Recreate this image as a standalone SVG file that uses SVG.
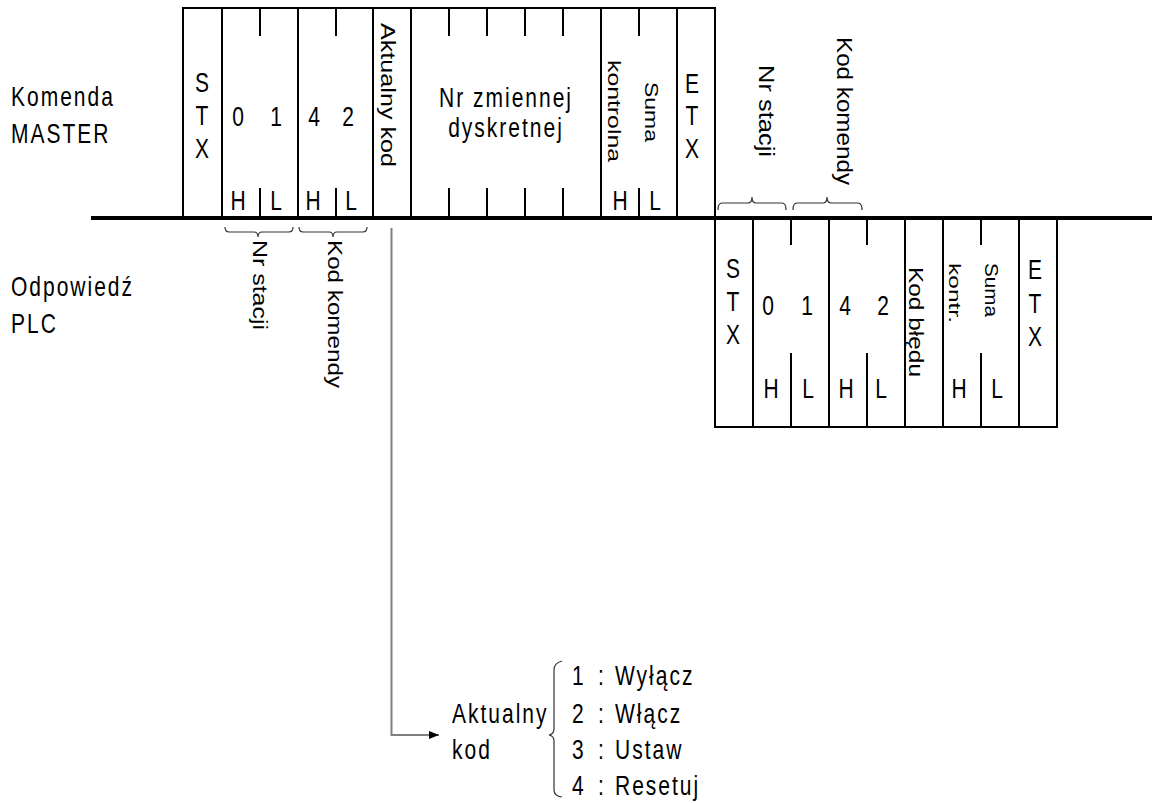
<svg xmlns="http://www.w3.org/2000/svg" width="1152" height="803" viewBox="0 0 1152 803">
<defs>
<style>
.t{font-family:"Liberation Sans",Arial,sans-serif;font-size:21px;letter-spacing:2px;fill:#000}
.c{text-anchor:middle;letter-spacing:0}
.m{text-anchor:middle}
.r{font-family:"Liberation Sans",Arial,sans-serif;fill:#000}
.f{fill:none;stroke:#000;stroke-width:2}
.tk{fill:none;stroke:#000;stroke-width:2}
.br{fill:none;stroke:#333;stroke-width:1.2}
.ar{fill:none;stroke:#808080;stroke-width:2}
</style>
<marker id="ah" viewBox="0 0 10 10" refX="10" refY="5" markerWidth="10" markerHeight="10" markerUnits="userSpaceOnUse" orient="auto">
<path d="M0,1 L10,5 L0,9 Z" fill="#000"/>
</marker>
</defs>
<rect width="1152" height="803" fill="#fff"/>

<g id="labels">
<text class="t" transform="translate(11,106) scale(1,1.28)">Komenda</text>
<text class="t" transform="translate(11,143) scale(1,1.28)">MASTER</text>
<text class="t" transform="translate(11,296) scale(1,1.28)">Odpowiedź</text>
<text class="t" transform="translate(11,333) scale(1,1.28)">PLC</text>
</g>

<g id="baseline">
<line x1="91" y1="218" x2="1152" y2="218" stroke="#000" stroke-width="4"/>
</g>

<g id="master-frame">
<path class="f" d="M183,217 V8 H715 V217 M222,8 V217 M298,8 V217 M373,8 V217 M411,8 V217 M601,8 V217 M677,8 V217"/>
<path class="tk" d="M260,8 V36 M336,8 V36 M449,8 V36 M487,8 V36 M525,8 V36 M563,8 V36 M639,8 V36 M260,188 V217 M336,188 V217 M449,188 V217 M487,188 V217 M525,188 V217 M563,188 V217 M639,188 V217"/>
<text class="t c" transform="translate(202,92) scale(1,1.28)">S</text>
<text class="t c" transform="translate(202,125) scale(1,1.28)">T</text>
<text class="t c" transform="translate(202,158) scale(1,1.28)">X</text>
<text class="t c" transform="translate(238,126) scale(1,1.28)">0</text>
<text class="t c" transform="translate(276,126) scale(1,1.28)">1</text>
<text class="t c" transform="translate(314,126) scale(1,1.28)">4</text>
<text class="t c" transform="translate(348,126) scale(1,1.28)">2</text>
<text class="t c" transform="translate(238,210) scale(1,1.28)">H</text>
<text class="t c" transform="translate(276,210) scale(1,1.28)">L</text>
<text class="t c" transform="translate(313,210) scale(1,1.28)">H</text>
<text class="t c" transform="translate(351,210) scale(1,1.28)">L</text>
<text class="t c" transform="translate(620,210) scale(1,1.28)">H</text>
<text class="t c" transform="translate(655,210) scale(1,1.28)">L</text>
<text class="r" font-size="21" textLength="144" lengthAdjust="spacingAndGlyphs" transform="translate(381,23) rotate(90)">Aktualny kod</text>
<text class="t m" transform="translate(506,107) scale(1,1.28)">Nr zmiennej</text>
<text class="t m" transform="translate(506,137) scale(1,1.28)">dyskretnej</text>
<text class="r" font-size="19" textLength="102" lengthAdjust="spacingAndGlyphs" transform="translate(608,60) rotate(90)">kontrolna</text>
<text class="r" font-size="19" textLength="60" lengthAdjust="spacingAndGlyphs" transform="translate(645,82) rotate(90)">Suma</text>
<text class="t c" transform="translate(692,93) scale(1,1.28)">E</text>
<text class="t c" transform="translate(692,125) scale(1,1.28)">T</text>
<text class="t c" transform="translate(692,158) scale(1,1.28)">X</text>
</g>

<g id="plc-frame">
<path class="f" d="M715,218 V427 H1057 V218 M753,218 V427 M829,218 V427 M905,218 V427 M943,218 V427 M1019,218 V427"/>
<path class="tk" d="M791,218 V245 M867,218 V245 M981,218 V245 M791,353 V427 M867,353 V427 M981,353 V427"/>
<text class="t c" transform="translate(733,278) scale(1,1.28)">S</text>
<text class="t c" transform="translate(733,311) scale(1,1.28)">T</text>
<text class="t c" transform="translate(733,344) scale(1,1.28)">X</text>
<text class="t c" transform="translate(768,315) scale(1,1.28)">0</text>
<text class="t c" transform="translate(807,315) scale(1,1.28)">1</text>
<text class="t c" transform="translate(845,315) scale(1,1.28)">4</text>
<text class="t c" transform="translate(883,315) scale(1,1.28)">2</text>
<text class="t c" transform="translate(771,398) scale(1,1.28)">H</text>
<text class="t c" transform="translate(808,398) scale(1,1.28)">L</text>
<text class="t c" transform="translate(846,398) scale(1,1.28)">H</text>
<text class="t c" transform="translate(881,398) scale(1,1.28)">L</text>
<text class="t c" transform="translate(959,398) scale(1,1.28)">H</text>
<text class="t c" transform="translate(997,398) scale(1,1.28)">L</text>
<text class="r" font-size="20" textLength="110" lengthAdjust="spacingAndGlyphs" transform="translate(909,267) rotate(90)">Kod błędu</text>
<text class="r" font-size="17" textLength="60" lengthAdjust="spacingAndGlyphs" transform="translate(949,263) rotate(90)">kontr.</text>
<text class="r" font-size="19" textLength="54" lengthAdjust="spacingAndGlyphs" transform="translate(985,263) rotate(90)">Suma</text>
<text class="t c" transform="translate(1035,279) scale(1,1.28)">E</text>
<text class="t c" transform="translate(1035,313) scale(1,1.28)">T</text>
<text class="t c" transform="translate(1035,346) scale(1,1.28)">X</text>
</g>

<g id="brace-labels-top">
<path class="br" d="M718,210 Q718,203 722,203 L748,203 Q752,203 752,197 Q752,203 756,203 L782,203 Q786,203 786,210"/>
<path class="br" d="M793,210 Q793,203 797,203 L823,203 Q827,203 827,197 Q827,203 831,203 L858,203 Q862,203 862,210"/>
<text class="r" font-size="22" textLength="92" lengthAdjust="spacingAndGlyphs" transform="translate(759,65) rotate(90)">Nr stacji</text>
<text class="r" font-size="22" textLength="148" lengthAdjust="spacingAndGlyphs" transform="translate(837,37) rotate(90)">Kod komendy</text>
</g>

<g id="brace-labels-bottom">
<path class="br" d="M225,227 Q225,232 229,232 L254,232 Q258,232 258,237 Q258,232 262,232 L289,232 Q293,232 293,227"/>
<path class="br" d="M299,227 Q299,232 303,232 L329,232 Q333,232 333,237 Q333,232 337,232 L363,232 Q367,232 367,227"/>
<text class="r" font-size="20" textLength="90" lengthAdjust="spacingAndGlyphs" transform="translate(253,240) rotate(90)">Nr stacji</text>
<text class="r" font-size="20" textLength="148" lengthAdjust="spacingAndGlyphs" transform="translate(328,240) rotate(90)">Kod komendy</text>
</g>

<g id="connectors">
<path class="ar" d="M391.5,228 V735 H439" marker-end="url(#ah)"/>
</g>

<g id="legend">
<text class="t" transform="translate(452,723) scale(1,1.28)">Aktualny</text>
<text class="t" transform="translate(452,759) scale(1,1.28)">kod</text>
<path class="br" d="M562,661 Q554,663 554,670 L554,729 Q554,734 549,735 Q554,736 554,741 L554,790 Q554,796 562,797"/>
<text class="t" transform="translate(572,685) scale(1,1.28)">1<tspan x="26">:</tspan><tspan x="43">Wyłącz</tspan></text>
<text class="t" transform="translate(572,723) scale(1,1.28)">2<tspan x="26">:</tspan><tspan x="43">Włącz</tspan></text>
<text class="t" transform="translate(572,759) scale(1,1.28)">3<tspan x="26">:</tspan><tspan x="43">Ustaw</tspan></text>
<text class="t" transform="translate(572,795) scale(1,1.28)">4<tspan x="26">:</tspan><tspan x="43">Resetuj</tspan></text>
</g>
</svg>
